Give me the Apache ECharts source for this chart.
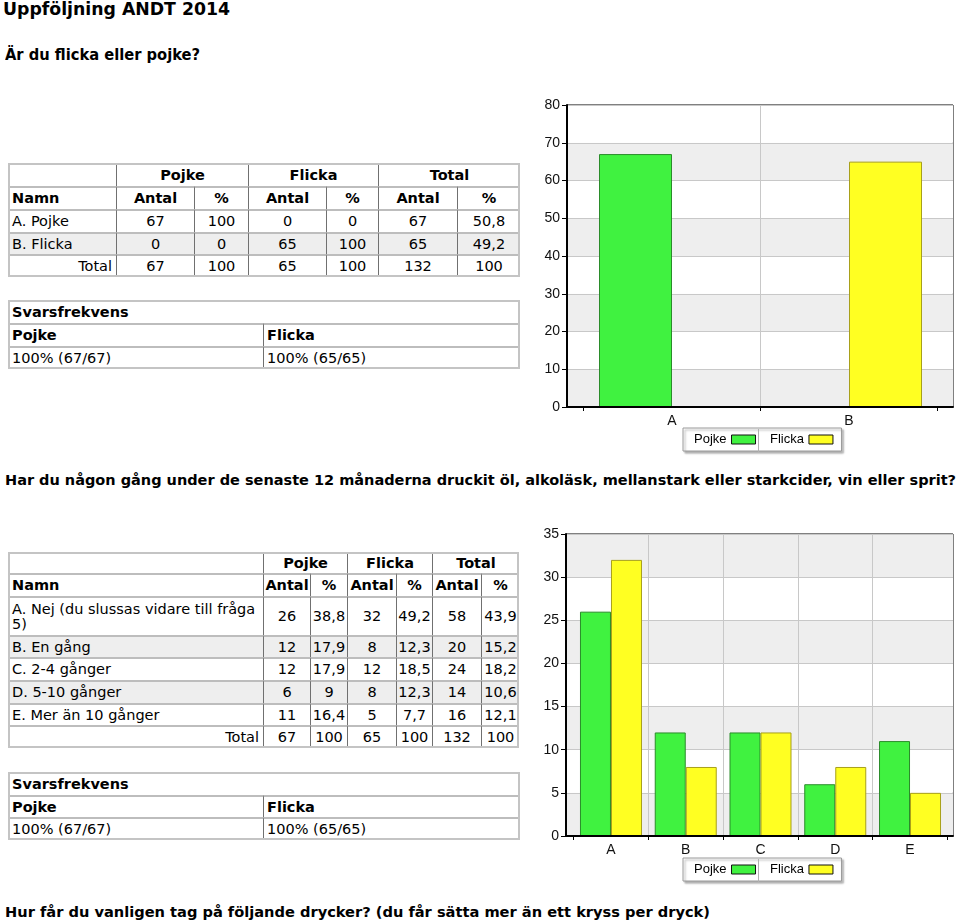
<!DOCTYPE html>
<html><head><meta charset="utf-8">
<script src="https://cdn.jsdelivr.net/npm/echarts@6/dist/echarts.min.js"></script>
<style>
html,body{margin:0;padding:0;background:#fff;}
body{width:960px;height:923px;overflow:hidden;position:relative;font-family:'DejaVu Sans',Verdana,sans-serif;color:#000;}
.h{position:absolute;white-space:nowrap;font-weight:bold;transform-origin:0 0;line-height:1;font-family:'DejaVu Sans Condensed','DejaVu Sans',sans-serif;}
.c{position:absolute;box-sizing:border-box;border-top:2px solid #bdbdbd;border-left:1px solid #707070;display:flex;align-items:center;padding:0;font-size:14.5px;line-height:15px;overflow:hidden;background:#fff;white-space:nowrap;}
.c.l,.c.r{padding:0 4px 0 3px;white-space:normal;}
.c.g{background:#eeeeee;}
.c.b{font-weight:bold;}
.f{position:absolute;box-sizing:border-box;border:2px solid #c4c4c4;pointer-events:none;}
.chart{position:absolute;width:430px;height:375px;}
</style></head>
<body>
<div class="h" id="t0" style="left:3px;top:0px;font-size:18px;" data-w="227">Uppföljning ANDT 2014</div>
<div class="h" id="t1" style="left:5px;top:47px;font-size:16px;" data-w="195">Är du flicka eller pojke?</div>
<div class="h" id="t2" style="left:5px;top:473px;font-size:14px;" data-w="951">Har du någon gång under de senaste 12 månaderna druckit öl, alkoläsk, mellanstark eller starkcider, vin eller sprit?</div>
<div class="h" id="t3" style="left:5px;top:905px;font-size:14px;" data-w="705">Hur får du vanligen tag på följande drycker? (du får sätta mer än ett kryss per dryck)</div>
<div id="c1" class="chart" style="left:530px;top:90px;"></div>
<div id="c2" class="chart" style="left:530px;top:520px;"></div>
<script>
// ---------- DATA ----------
const groupNames = ['Pojke', 'Flicka', 'Total'];
const colNames = ['Namn', 'Antal', '%'];
const svarTitle = 'Svarsfrekvens';

const q1Options = ['A. Pojke', 'B. Flicka'];
const q1Letters = ['A', 'B'];
const q1PojkeAntal = [67, 0];
const q1PojkePct = ['100', '0'];
const q1FlickaAntal = [0, 65];
const q1FlickaPct = ['0', '100'];
const q1TotalAntal = [67, 65];
const q1TotalPct = ['50,8', '49,2'];
const q1Sum = ['67', '100', '65', '100', '132', '100'];
const q1Svar = ['100% (67/67)', '100% (65/65)'];
const q1YMax = 80, q1YStep = 10;

const q2Options = ['A. Nej (du slussas vidare till fråga 5)', 'B. En gång', 'C. 2-4 gånger', 'D. 5-10 gånger', 'E. Mer än 10 gånger'];
const q2Letters = ['A', 'B', 'C', 'D', 'E'];
const q2PojkeAntal = [26, 12, 12, 6, 11];
const q2PojkePct = ['38,8', '17,9', '17,9', '9', '16,4'];
const q2FlickaAntal = [32, 8, 12, 8, 5];
const q2FlickaPct = ['49,2', '12,3', '18,5', '12,3', '7,7'];
const q2TotalAntal = [58, 20, 24, 14, 16];
const q2TotalPct = ['43,9', '15,2', '18,2', '10,6', '12,1'];
const q2Sum = ['67', '100', '65', '100', '132', '100'];
const q2Svar = ['100% (67/67)', '100% (65/65)'];
const q2YMax = 35, q2YStep = 5;

// ---------- TABLES ----------
function drawTable(xs, ys, rows) {
  rows.forEach((row, ri) => {
    let ci = 0;
    row.cells.forEach(cell => {
      const span = cell.span || 1;
      const d = document.createElement('div');
      d.className = 'c' + (row.g ? ' g' : '') + (cell.b ? ' b' : '') + (cell.a ? ' ' + cell.a : '');
      d.style.left = xs[ci] + 'px';
      d.style.top = ys[ri] + 'px';
      d.style.width = (xs[ci + span] - xs[ci]) + 'px';
      d.style.height = (ys[ri + 1] - ys[ri]) + 'px';
      d.style.justifyContent = cell.a === 'l' ? 'flex-start' : cell.a === 'r' ? 'flex-end' : 'center';
      d.style.textAlign = cell.a === 'l' ? 'left' : cell.a === 'r' ? 'right' : 'center';
      d.textContent = cell.t;
      document.body.appendChild(d);
      ci += span;
    });
  });
  const f = document.createElement('div');
  f.className = 'f';
  f.style.left = xs[0] + 'px';
  f.style.top = ys[0] + 'px';
  f.style.width = (xs[xs.length - 1] - xs[0]) + 'px';
  f.style.height = (ys[ys.length - 1] - ys[0]) + 'px';
  document.body.appendChild(f);
}
function mainTable(xs, ys, opts, cols, sums) {
  const rows = [];
  rows.push({cells: [{t: ''}].concat(groupNames.map(n => ({t: n, span: 2, b: 1})))});
  rows.push({cells: [{t: colNames[0], a: 'l', b: 1}].concat(groupNames.flatMap(() => [{t: colNames[1], b: 1}, {t: colNames[2], b: 1}]))});
  opts.forEach((o, i) => rows.push({g: i % 2 === 1, cells: [{t: o, a: 'l'}].concat(cols.map(c => ({t: String(c[i])})))}));
  rows.push({cells: [{t: 'Total', a: 'r'}].concat(sums.map(s => ({t: String(s)})))});
  drawTable(xs, ys, rows);
}
function svarTable(xs, ys, vals) {
  drawTable(xs, ys, [
    {cells: [{t: svarTitle, a: 'l', b: 1, span: 2}]},
    {cells: [{t: groupNames[0], a: 'l', b: 1}, {t: groupNames[1], a: 'l', b: 1}]},
    {cells: [{t: vals[0], a: 'l'}, {t: vals[1], a: 'l'}]}
  ]);
}
mainTable([8, 116, 194, 248, 326, 378, 457, 520], [163, 186, 209, 232, 254, 277],
  q1Options, [q1PojkeAntal, q1PojkePct, q1FlickaAntal, q1FlickaPct, q1TotalAntal, q1TotalPct], q1Sum);
svarTable([8, 263, 520], [300, 323, 346, 369], q1Svar);
mainTable([8, 263, 310, 347, 396, 432, 481, 519], [552, 573, 596, 635, 657, 680, 703, 725, 748],
  q2Options, [q2PojkeAntal, q2PojkePct, q2FlickaAntal, q2FlickaPct, q2TotalAntal, q2TotalPct], q2Sum);
svarTable([8, 263, 520], [772, 795, 817, 840], q2Svar);

// fit headings
document.querySelectorAll('[data-w]').forEach(el => {
  const w = el.getBoundingClientRect().width;
  el.style.transform = 'scaleX(' + (parseFloat(el.dataset.w) / w) + ')';
});

// ---------- CHARTS ----------
function makeChart(el, cats, pojke, flicka, yMax, yStep, g) {
  const chart = echarts.init(el, null, {renderer: 'canvas'});
  const font = 'Liberation Sans, Arial, sans-serif';
  chart.setOption({
    animation: false,
    textStyle: {fontFamily: font},
    grid: [
      {left: g.l, top: g.t, width: g.w, height: g.h, show: true, borderColor: '#000', borderWidth: 1, backgroundColor: 'transparent'},
      {left: g.bl, top: g.t, width: g.bw, height: g.h}
    ],
    xAxis: [
      {gridIndex: 0, type: 'value', min: 0, max: 1, z: 10, axisLine: {show: true, onZero: false, lineStyle: {color: '#000', width: 2}},
        axisTick: {show: false}, axisLabel: {show: false}, splitLine: {show: false}},
      {gridIndex: 1, type: 'category', data: cats, axisLine: {show: false},
        axisTick: {show: true, length: 4, lineStyle: {color: '#000'}},
        axisLabel: {fontSize: 14, color: '#111', margin: 7, fontFamily: font},
        splitLine: {show: true, showMinLine: false, showMaxLine: false, lineStyle: {color: '#c8c8c8', width: 1}}}
    ],
    yAxis: [
      {gridIndex: 0, type: 'value', min: 0, max: yMax, interval: yStep,
        axisLine: {show: true, lineStyle: {color: '#000', width: 2}},
        axisTick: {show: true, length: 5, lineStyle: {color: '#000'}},
        axisLabel: {fontSize: 14, color: '#111', margin: 7, fontFamily: font},
        splitLine: {show: true, lineStyle: {color: '#c8c8c8', width: 1}},
        splitArea: {show: true, areaStyle: {color: ['#eeeeee', '#ffffff']}}},
      {gridIndex: 1, type: 'value', min: 0, max: yMax, show: false, splitLine: {show: false}}
    ],
    legend: {
      data: ['Pojke', 'Flicka'], left: 153, top: 338, orient: 'horizontal', align: 'right',
      itemWidth: 24, itemHeight: 9, itemGap: 14, padding: [5, 8, 5, 11], icon: 'rect',
      backgroundColor: '#fff', borderColor: '#9a9a9a', borderWidth: 1,
      shadowColor: 'rgba(0,0,0,0.3)', shadowBlur: 2, shadowOffsetX: 2, shadowOffsetY: 2,
      textStyle: {fontSize: 13, color: '#000', fontFamily: font},
      itemStyle: {borderColor: '#111', borderWidth: 1}
    },
    graphic: [{type: 'line', shape: {x1: 228.5, y1: 339, x2: 228.5, y2: 362}, style: {stroke: '#b0b0b0', lineWidth: 1}, z: 100}],
    series: [
      {name: 'Pojke', type: 'bar', xAxisIndex: 1, yAxisIndex: 1, data: pojke, barWidth: g.bar, barGap: '0%',
        itemStyle: {color: '#40f240', borderColor: '#2a8c2a', borderWidth: 1}},
      {name: 'Flicka', type: 'bar', xAxisIndex: 1, yAxisIndex: 1, data: flicka, barWidth: g.bar, barGap: '0%',
        itemStyle: {color: '#ffff22', borderColor: '#a8a01a', borderWidth: 1}}
    ]
  });
}
makeChart(document.getElementById('c1'), q1Letters, q1PojkeAntal, q1FlickaAntal, q1YMax, q1YStep,
  {l: 37, t: 15, w: 386, h: 302, bl: 53.5, bw: 354, bar: 73});
makeChart(document.getElementById('c2'), q2Letters, q2PojkeAntal, q2FlickaAntal, q2YMax, q2YStep,
  {l: 36, t: 14, w: 387, h: 302, bl: 43.6, bw: 373.8, bar: 31});
</script>
</body></html>
